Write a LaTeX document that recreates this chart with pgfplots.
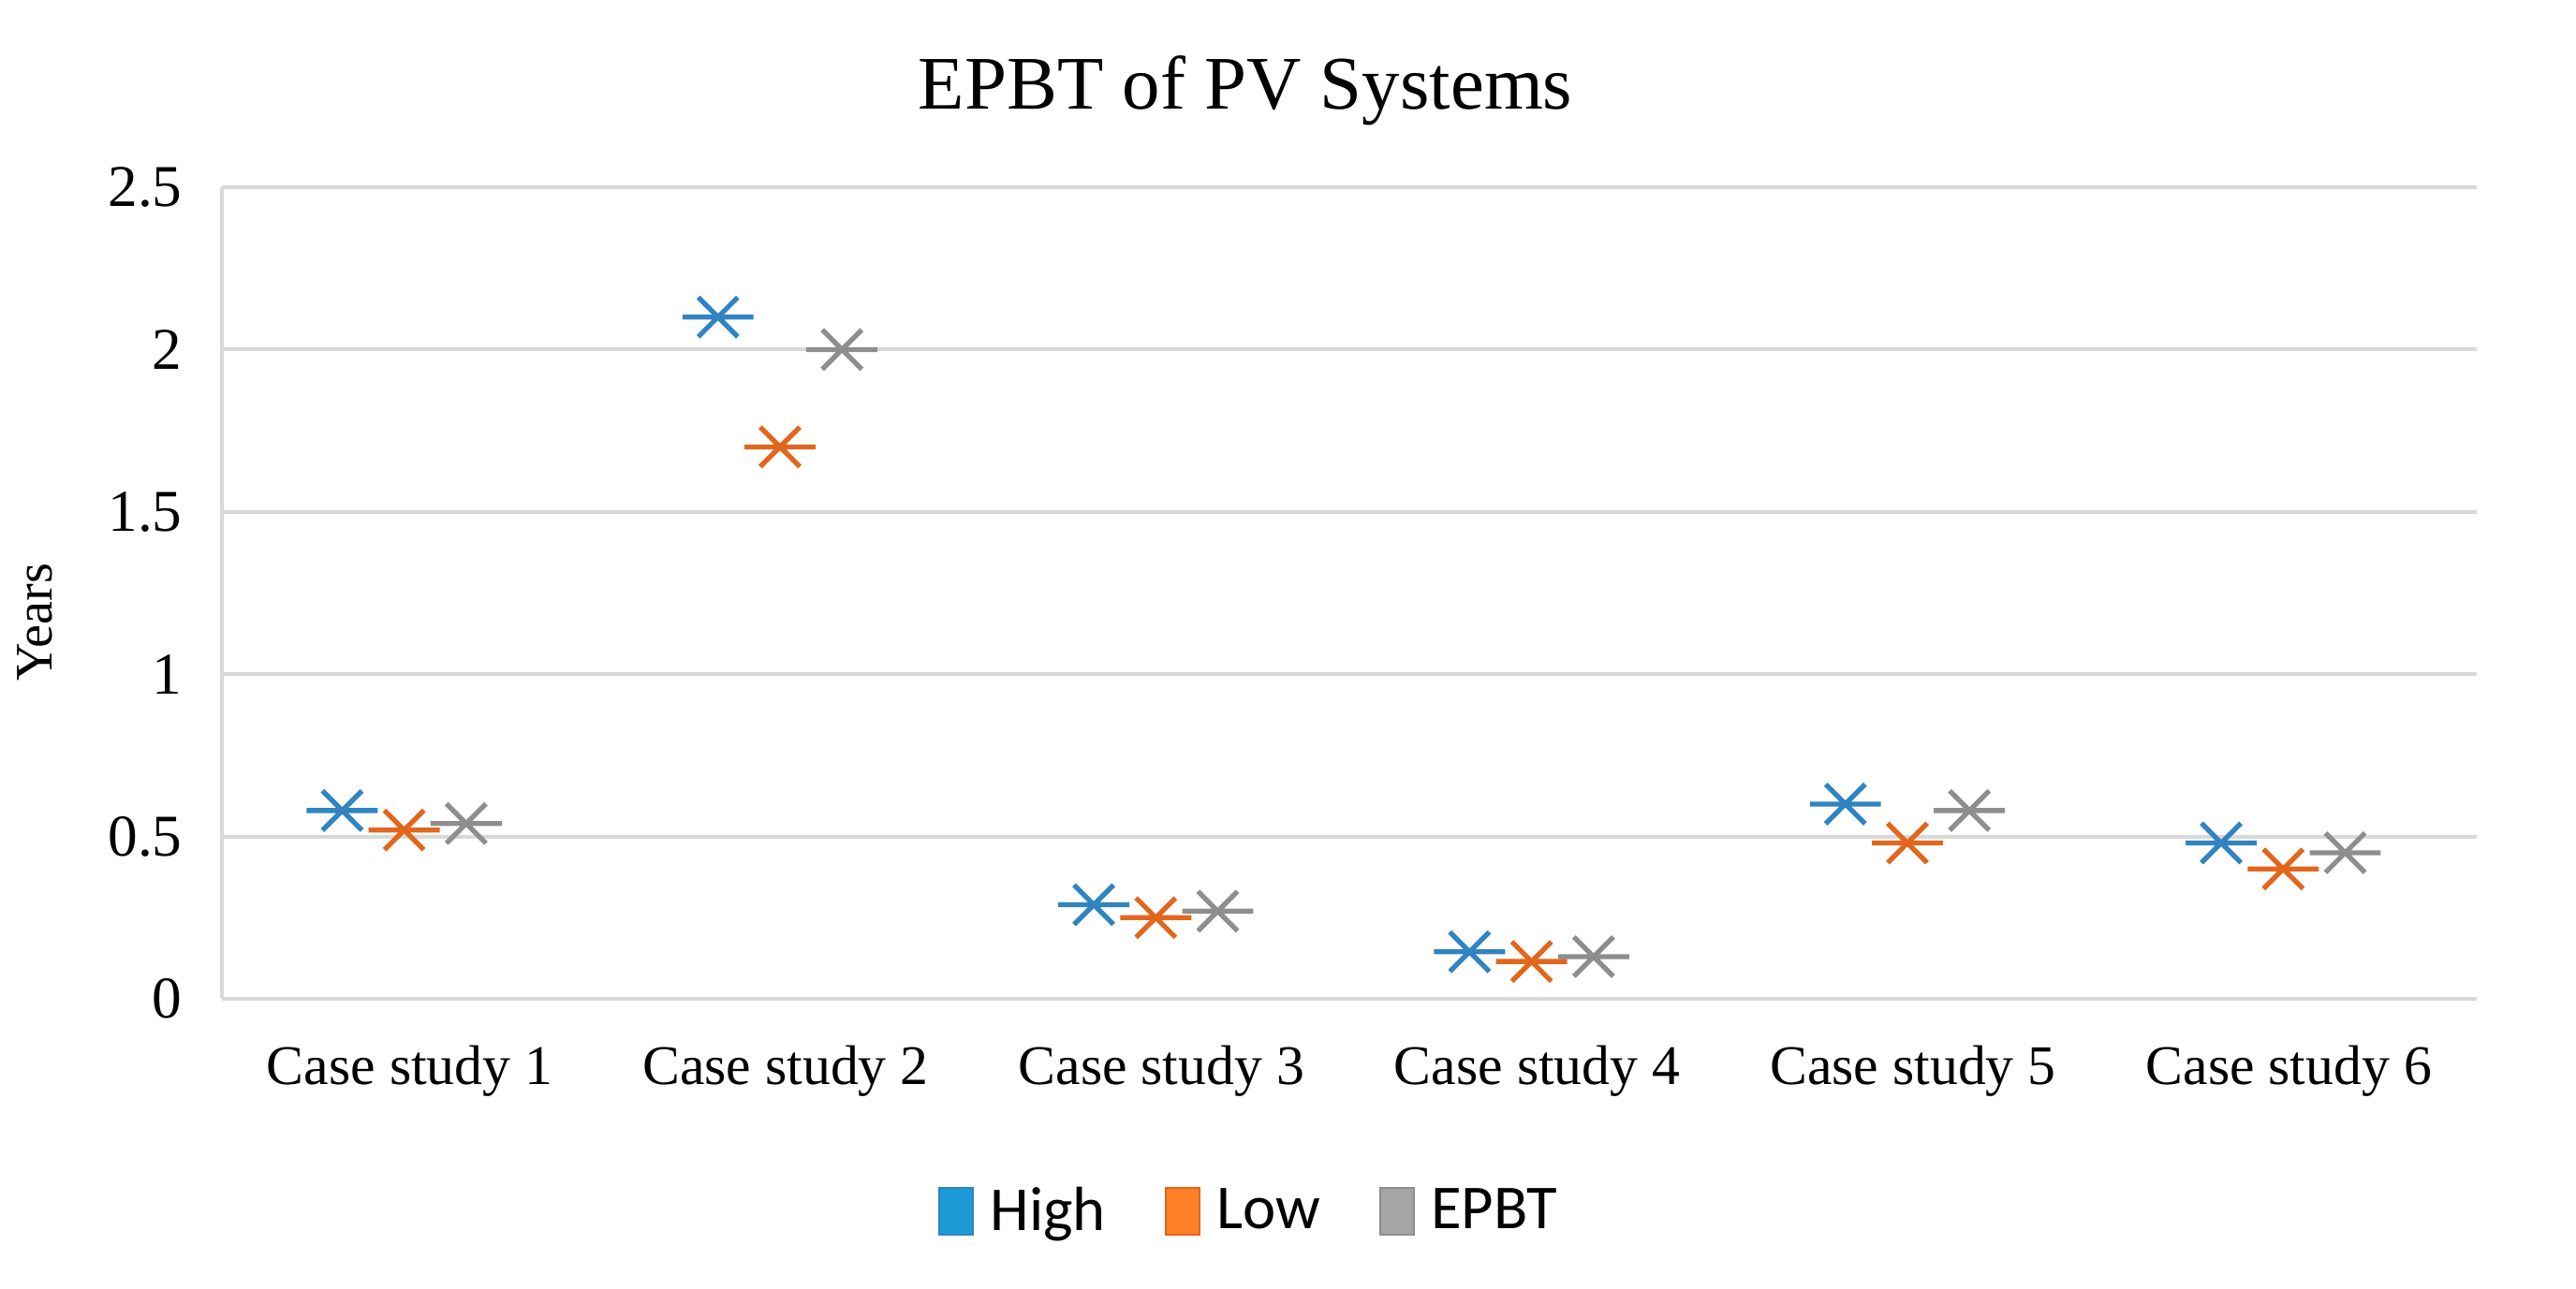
\documentclass[border=0pt]{standalone}
\usepackage{fontspec}
\setmainfont{Liberation Serif}
\newfontfamily\legfont{Carlito}
\usepackage{pgfplots}
\pgfplotsset{compat=1.18}

\definecolor{hiblue}{HTML}{3084C0}
\definecolor{loorange}{HTML}{E2661C}
\definecolor{epgray}{HTML}{8E8E8E}
\definecolor{hifill}{HTML}{1B9AD6}
\definecolor{lofill}{HTML}{FF7F27}
\definecolor{epfill}{HTML}{A5A5A5}
\definecolor{gridgray}{HTML}{D9D9D9}

% Excel style star: long horizontal bar plus an X
\pgfdeclareplotmark{xstar}{%
  \pgfpathmoveto{\pgfqpoint{-1.8\pgfplotmarksize}{0pt}}%
  \pgfpathlineto{\pgfqpoint{1.8\pgfplotmarksize}{0pt}}%
  \pgfpathmoveto{\pgfqpoint{-\pgfplotmarksize}{-\pgfplotmarksize}}%
  \pgfpathlineto{\pgfqpoint{\pgfplotmarksize}{\pgfplotmarksize}}%
  \pgfpathmoveto{\pgfqpoint{-\pgfplotmarksize}{\pgfplotmarksize}}%
  \pgfpathlineto{\pgfqpoint{\pgfplotmarksize}{-\pgfplotmarksize}}%
  \pgfusepathqstroke}

\begin{document}
\begin{tikzpicture}
\begin{axis}[
    scale only axis,
    width=24.08cm, height=8.67cm,
    xmin=0.5, xmax=6.5,
    ymin=0, ymax=2.5,
    xtick={1,2,3,4,5,6},
    xticklabels={Case study 1,Case study 2,Case study 3,Case study 4,Case study 5,Case study 6},
    ytick={0,0.5,1,1.5,2,2.5},
    yticklabels={0,0.5,1,1.5,2,2.5},
    major tick length=0pt,
    axis x line*=bottom, axis y line*=left,
    axis line style={draw=gridgray, line width=1.1pt, -},
    ymajorgrids,
    grid style={draw=gridgray, line width=1.1pt},
    ticklabel style={font=\fontsize{17}{20}\selectfont},
    yticklabel style={font=\fontsize{18}{21}\selectfont, xshift=-0.3cm},
    xticklabel style={yshift=-0.38cm},
    ylabel={Years},
    ylabel style={font=\fontsize{16}{19}\selectfont, at={(axis description cs:-0.083,0.464)}, anchor=center},
    title={EPBT of PV Systems},
    title style={font=\fontsize{23}{27}\selectfont, at={(axis description cs:0.454,1)}, anchor=base, yshift=0.62cm},
    legend style={draw=none, font=\legfont\fontsize{19}{22}\selectfont,
        at={(axis description cs:0.4585,-0.262)}, anchor=center,
        nodes={inner xsep=5pt},
        /tikz/every even column/.append style={column sep=0.45cm}},
    legend columns=-1,
    clip=false,
]
\addplot[only marks, mark=xstar, mark size=6pt, line width=1.5pt, draw=hiblue,
    legend image code/.code={\draw[draw=hiblue, fill=hifill, line width=0.6pt] (0cm,-0.25cm) rectangle (0.36cm,0.25cm);}]
    coordinates {(0.82,0.58) (1.82,2.10) (2.82,0.29) (3.82,0.145) (4.82,0.60) (5.82,0.48)};
\addplot[only marks, mark=xstar, mark size=6pt, line width=1.5pt, draw=loorange,
    legend image code/.code={\draw[draw=loorange, fill=lofill, line width=0.6pt] (0cm,-0.25cm) rectangle (0.36cm,0.25cm);}]
    coordinates {(0.985,0.52) (1.985,1.70) (2.985,0.25) (3.985,0.115) (4.985,0.48) (5.985,0.40)};
\addplot[only marks, mark=xstar, mark size=6pt, line width=1.5pt, draw=epgray,
    legend image code/.code={\draw[draw=epgray, fill=epfill, line width=0.6pt] (0cm,-0.25cm) rectangle (0.36cm,0.25cm);}]
    coordinates {(1.15,0.54) (2.15,2.00) (3.15,0.27) (4.15,0.13) (5.15,0.58) (6.15,0.45)};
\legend{High,Low,EPBT}
\coordinate (sw) at (rel axis cs:0,0);
\end{axis}
\path (sw) ++(-2.37cm,-3.09cm) rectangle ++(27.51cm,13.76cm);
\end{tikzpicture}
\end{document}
